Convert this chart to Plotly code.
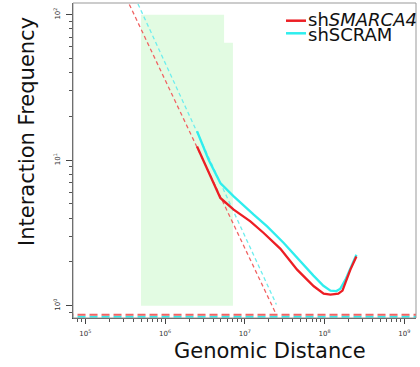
import plotly.graph_objects as go

# ---- data ----
dist_smarca4 = [2.52e6, 3.52e6, 4.94e6, 7.26e6, 1.175e7, 1.726e7, 2.80e7, 4.53e7,
                7.33e7, 9.75e7, 1.186e8, 1.49e8, 1.68e8, 1.83e8, 2.11e8, 2.51e8]
freq_smarca4 = [12.4, 8.17, 5.50, 4.57, 3.80, 3.16, 2.46, 1.77,
                1.36, 1.21, 1.19, 1.21, 1.27, 1.44, 1.77, 2.18]

dist_scram = [2.52e6, 3.52e6, 4.94e6, 7.26e6, 1.294e7, 1.905e7, 3.08e7, 4.99e7,
              7.26e7, 9.68e7, 1.186e8, 1.41e8, 1.58e8, 1.83e8, 2.11e8, 2.51e8]
freq_scram = [15.8, 10.07, 6.97, 5.64, 4.22, 3.51, 2.70, 2.01,
              1.61, 1.37, 1.27, 1.26, 1.31, 1.51, 1.82, 2.24]

# power-law fit guide lines (endpoints)
fit_x = [3.0e5, 2.49e7]
fit_smarca4 = [143.6, 0.867]
fit_scram = [196.0, 1.02]

# horizontal reference levels
hline_x = [1e4, 1e10]
level_smarca4 = 0.867
level_scram = 0.840

# shaded region
shade_x = [5.0e5, 5.5e6, 7.1e6]
shade_top = [100, 64]
shade_bottom = 1

x_tickvals = [1e5, 1e6, 1e7, 1e8, 1e9]
x_ticktext = ["10<sup>5</sup>", "10<sup>6</sup>", "10<sup>7</sup>", "10<sup>8</sup>", "10<sup>9</sup>"]
y_tickvals = [1, 10, 100]
y_ticktext = ["10<sup>0</sup>", "10<sup>1</sup>", "10<sup>2</sup>"]

RED = "#EC1E24"
CYAN = "#2EEEEE"
RED_D = "#F06464"
CYAN_D = "#6EEEEE"

fig = go.Figure()

# shaded polygon
poly_x = [shade_x[0], shade_x[0], shade_x[1], shade_x[1], shade_x[2], shade_x[2], shade_x[0]]
poly_y = [shade_bottom, shade_top[0], shade_top[0], shade_top[1], shade_top[1], shade_bottom, shade_bottom]
fig.add_trace(go.Scatter(x=poly_x, y=poly_y, mode="lines", fill="toself",
                         fillcolor="#E2FBE2", line=dict(width=0), showlegend=False, hoverinfo="skip"))

# horizontal dashed levels
fig.add_trace(go.Scatter(x=hline_x, y=[level_scram] * 2, mode="lines",
                         line=dict(color=CYAN, width=2, dash="8px,4px"), showlegend=False))
fig.add_trace(go.Scatter(x=hline_x, y=[level_smarca4] * 2, mode="lines",
                         line=dict(color=RED_D, width=2, dash="8px,4px"), showlegend=False))

# fit lines
fig.add_trace(go.Scatter(x=fit_x, y=fit_scram, mode="lines",
                         line=dict(color=CYAN_D, width=1.3, dash="4px,3px"), showlegend=False))
fig.add_trace(go.Scatter(x=fit_x, y=fit_smarca4, mode="lines",
                         line=dict(color=RED_D, width=1.3, dash="4px,3px"), showlegend=False))

# main curves
fig.add_trace(go.Scatter(x=dist_scram, y=freq_scram, mode="lines",
                         line=dict(color=CYAN, width=2.3), showlegend=False))
fig.add_trace(go.Scatter(x=dist_smarca4, y=freq_smarca4, mode="lines",
                         line=dict(color=RED, width=2.3), showlegend=False))

L, R, T, B = 73, 4, 3, 49
W, H = 420, 367
pw, ph = W - L - R, H - T - B

def px(x):
    return (x - L) / pw

def py(y):
    return (H - B - y) / ph

minor_x = [m * 10 ** e for e in range(4, 10) for m in range(2, 10)]
minor_y = [m * 10 ** e for e in range(-1, 3) for m in range(2, 10)]

fig.update_layout(
    width=W, height=H,
    margin=dict(l=L, r=R, t=T, b=B, pad=0),
    paper_bgcolor="white", plot_bgcolor="white",
    font=dict(family="DejaVu Sans", color="#111"),
    showlegend=False,
    xaxis=dict(type="log", range=[4.846, 9.147], showgrid=False, zeroline=False,
               showline=True, linecolor="#444", linewidth=1,
               tickmode="array", tickvals=x_tickvals, ticktext=x_ticktext,
               ticks="outside", ticklen=5, tickcolor="#444", tickwidth=1,
               ticklabelstandoff=4,
               tickfont=dict(size=7, color="#333"),
               minor=dict(tickmode="array", tickvals=minor_x, ticks="outside",
                          ticklen=3, tickcolor="#555", showgrid=False)),
    yaxis=dict(type="log", range=[-0.0845, 2.080], showgrid=False, zeroline=False,
               showline=True, linecolor="#444", linewidth=1,
               tickmode="array", tickvals=y_tickvals, ticktext=y_ticktext,
               tickangle=-90,
               ticks="outside", ticklen=6, tickcolor="#444", tickwidth=1,
               ticklabelstandoff=3,
               tickfont=dict(size=7, color="#333"),
               minor=dict(tickmode="array", tickvals=minor_y, ticks="outside",
                          ticklen=3, tickcolor="#555", showgrid=False)),
)

# frame (top/right gray)
fig.add_shape(type="rect", xref="paper", yref="paper", x0=0, x1=1, y0=0, y1=1,
              line=dict(color="#999", width=1), layer="above")

# legend drawn manually
fig.add_shape(type="line", xref="paper", yref="paper", x0=px(286), x1=px(306),
              y0=py(20.7), y1=py(20.7), line=dict(color=RED, width=2.5))
fig.add_shape(type="line", xref="paper", yref="paper", x0=px(286), x1=px(306),
              y0=py(33.3), y1=py(33.3), line=dict(color=CYAN, width=2.5))
fig.add_annotation(xref="paper", yref="paper", x=px(306), y=py(19.5), xanchor="left", yanchor="middle",
                   text="sh<i>SMARCA4</i>", showarrow=False, font=dict(size=18, color="#111"))
fig.add_annotation(xref="paper", yref="paper", x=px(306), y=py(34.5), xanchor="left", yanchor="middle",
                   text="shSCRAM", showarrow=False, font=dict(size=18, color="#111"))

# axis titles
fig.add_annotation(xref="paper", yref="paper", x=px(270), y=py(351), xanchor="center", yanchor="middle",
                   text="Genomic Distance", showarrow=False, font=dict(size=21, color="#111"))
fig.add_annotation(xref="paper", yref="paper", x=px(27), y=py(132), xanchor="center", yanchor="middle",
                   text="Interaction Frequency", textangle=-90, showarrow=False,
                   font=dict(size=21, color="#111"))

fig.write_html("out.html")
